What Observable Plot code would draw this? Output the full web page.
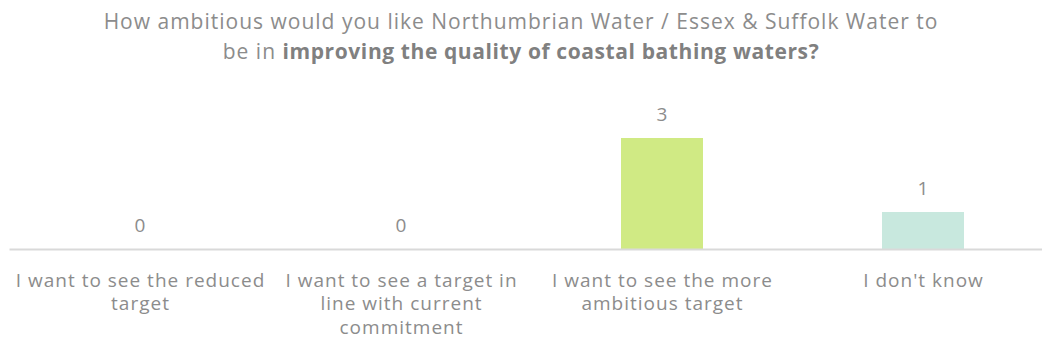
<!DOCTYPE html>
<html>
<head>
<meta charset="utf-8">
<script src="https://cdn.jsdelivr.net/npm/d3@7"></script>
<script src="https://cdn.jsdelivr.net/npm/@observablehq/plot@0.6"></script>
<style>
  html, body { margin: 0; padding: 0; background: #fff; overflow: hidden; }
  body { width: 1042px; height: 351px; font-family: "Open Sans", sans-serif; }
  #title { height: 70px; box-sizing: border-box; padding-top: 6px; text-align: center; color: #8c8c8c; font-size: 21px; letter-spacing: 1px; line-height: 30px; }
  #title b { color: #808080; font-weight: 700; letter-spacing: 0.6px; }
  #chart svg { display: block; overflow: visible; }
  #chart svg text { letter-spacing: 1px; }
</style>
</head>
<body>
<div id="title">How ambitious would you like Northumbrian Water / Essex &amp; Suffolk Water to<br>be in <b>improving the quality of coastal bathing waters?</b></div>
<div id="chart"></div>
<script>
const categories = [
  "I want to see the reduced target",
  "I want to see a target in line with current commitment",
  "I want to see the more ambitious target",
  "I don't know"
];
const tickLabels = [
  "I want to see the reduced\ntarget",
  "I want to see a target in\nline with current\ncommitment",
  "I want to see the more\nambitious target",
  "I don't know"
];
const counts = [0, 0, 3, 1];
const colors = ["#5b9bd5", "#a9d18e", "#d0ea84", "#c8e8de"];

const data = categories.map((c, i) => ({category: c, count: counts[i], color: colors[i]}));
const labelOf = new Map(categories.map((c, i) => [c, tickLabels[i]]));

const chart = Plot.plot({
  width: 1042,
  height: 281,
  marginLeft: 9.5,
  marginRight: 0,
  marginTop: 31,
  marginBottom: 102,
  style: {fontFamily: "'Open Sans', sans-serif", color: "#8c8c8c", background: "#fff"},
  x: {domain: categories, range: [9.5, 1053.5], paddingInner: 0.686, paddingOuter: 0.343, label: null},
  y: {domain: [0, 4], axis: null},
  marks: [
    Plot.barY(data, {x: "category", y: "count", fill: "color"}),
    Plot.ruleY([0], {stroke: "#d9d9d9", strokeWidth: 2}),
    Plot.text(data, {x: "category", y: "count", text: d => String(d.count), dy: -24, fontSize: 19, fill: "#8c8c8c"}),
    Plot.axisX({tickSize: 0, tickPadding: 20, fontSize: 19, lineHeight: 1.26, tickFormat: d => labelOf.get(d), fill: "#8c8c8c", label: null})
  ]
});
document.getElementById("chart").appendChild(chart);
</script>
</body>
</html>
